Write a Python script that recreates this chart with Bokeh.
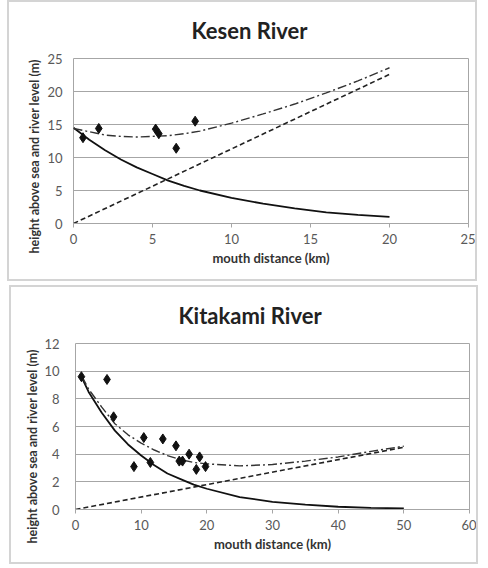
from bokeh.plotting import figure
from bokeh.models import Range1d, FixedTicker, Title
from bokeh.layouts import column
from bokeh.embed import file_html
from bokeh.resources import INLINE

# ---- Kesen River ----
kesen_obs_x = [0.6, 1.6, 5.2, 5.4, 6.5, 7.7]
kesen_obs_y = [13.0, 14.4, 14.3, 13.6, 11.4, 15.5]
kesen_solid_x = [0, 1, 2, 3, 4, 5, 6, 7, 8, 10, 12, 14, 16, 18, 20]
kesen_solid_y = [14.5, 12.7, 11.1, 9.7, 8.5, 7.5, 6.5, 5.7, 5.0, 3.9, 3.0, 2.3, 1.7, 1.3, 1.0]
kesen_dash_x = [0, 20]
kesen_dash_y = [0.0, 22.6]
kesen_dd_x = [0, 1, 2, 3, 4, 5, 6, 7, 8, 10, 12, 14, 16, 18, 20]
kesen_dd_y = [14.4, 13.9, 13.4, 13.2, 13.1, 13.2, 13.3, 13.6, 14.0, 15.2, 16.6, 18.1, 19.8, 21.6, 23.6]
kesen_xticks = [0, 5, 10, 15, 20, 25]
kesen_yticks = [0, 5, 10, 15, 20, 25]

# ---- Kitakami River ----
kita_obs_x = [0.9, 4.8, 5.8, 8.9, 10.4, 11.4, 13.3, 15.3, 15.8, 16.3, 17.3, 18.4, 18.9, 19.8]
kita_obs_y = [9.6, 9.4, 6.7, 3.1, 5.2, 3.4, 5.1, 4.6, 3.5, 3.5, 4.0, 2.9, 3.8, 3.1]
kita_solid_x = [1, 2, 4, 6, 8, 10, 12, 14, 16, 18, 20, 25, 30, 35, 40, 45, 50]
kita_solid_y = [9.5, 8.5, 7.0, 5.7, 4.7, 3.9, 3.2, 2.6, 2.2, 1.8, 1.5, 0.9, 0.55, 0.35, 0.2, 0.12, 0.08]
kita_dash_x = [0, 50]
kita_dash_y = [0.0, 4.5]
kita_dd_x = [1, 2, 4, 6, 8, 10, 12, 14, 16, 18, 20, 25, 30, 35, 40, 45, 50]
kita_dd_y = [9.6, 8.7, 7.4, 6.2, 5.4, 4.8, 4.3, 3.9, 3.6, 3.4, 3.3, 3.15, 3.25, 3.5, 3.8, 4.2, 4.58]
kita_xticks = [0, 10, 20, 30, 40, 50, 60]
kita_yticks = [0, 2, 4, 6, 8, 10, 12]

FONT = "Lato"
GRID = "#a6a6a6"
TICK = "#595959"


def make_panel(title, xmax, ymax, xticks, yticks, obs_x, obs_y, sx, sy, dx, dy, ddx, ddy,
               width, height, margin, left, right, top, bottom, title_offset,
               ytick_standoff, ylab_offset, ylab_standoff):
    p = figure(width=width, height=height, output_backend="svg", toolbar_location=None,
               x_range=Range1d(0, xmax), y_range=Range1d(0, ymax),
               min_border_left=left, min_border_right=right,
               min_border_top=top, min_border_bottom=bottom,
               margin=margin,
               styles={"border": "2px solid #d4d4d4", "box-sizing": "border-box"})
    p.background_fill_color = "white"
    p.border_fill_color = "white"
    p.outline_line_color = GRID
    p.outline_line_width = 1
    p.xgrid.grid_line_color = None
    p.ygrid.grid_line_color = GRID
    p.ygrid.grid_line_width = 1
    p.xaxis.ticker = FixedTicker(ticks=xticks)
    p.yaxis.ticker = FixedTicker(ticks=yticks)
    for ax in (p.xaxis, p.yaxis):
        ax.major_label_text_font = FONT
        ax.major_label_text_font_size = "13px"
        ax.major_label_text_color = TICK
        ax.minor_tick_line_color = None
    p.xaxis.axis_line_color = GRID
    p.xaxis.major_tick_line_color = GRID
    p.xaxis.major_tick_out = 4
    p.xaxis.major_tick_in = 0
    p.xaxis.major_label_standoff = 6
    p.xaxis.axis_label = "mouth distance (km)"
    p.xaxis.axis_label_text_font = FONT
    p.xaxis.axis_label_text_font_style = "bold"
    p.xaxis.axis_label_text_font_size = "13px"
    p.xaxis.axis_label_text_color = "#333333"
    p.xaxis.axis_label_standoff = 3
    p.yaxis.axis_line_color = None
    p.yaxis.major_tick_line_color = None
    p.yaxis.major_tick_out = 0
    p.yaxis.major_tick_in = 0
    p.yaxis.major_label_standoff = ytick_standoff

    p.add_layout(Title(text="height above sea and river level (m)", align="left",
                       offset=ylab_offset, standoff=ylab_standoff, text_font=FONT,
                       text_font_style="bold", text_font_size="12.5px",
                       text_color="#333333"), "left")

    p.title.text = title
    p.title.align = "left"
    p.title.vertical_align = "middle"
    p.title.offset = title_offset
    p.title.text_font = FONT
    p.title.text_font_style = "bold"
    p.title.text_font_size = "22px"
    p.title.text_color = "#222222"
    p.title.standoff = 27

    p.line(sx, sy, line_color="#111111", line_width=1.8)
    p.line(dx, dy, line_color="#222222", line_width=1.6, line_dash="5 3")
    p.line(ddx, ddy, line_color="#333333", line_width=1.4, line_dash="9 3 2 3")
    p.scatter(obs_x, obs_y, marker="diamond", size=10, fill_color="#111111", line_color="#111111")
    return p


p1 = make_panel("Kesen River", 25, 25, kesen_xticks, kesen_yticks,
                kesen_obs_x, kesen_obs_y, kesen_solid_x, kesen_solid_y,
                kesen_dash_x, kesen_dash_y, kesen_dd_x, kesen_dd_y,
                width=470, height=281, margin=(0, 0, 0, 7),
                left=60, right=9, top=55, bottom=60, title_offset=118,
                ytick_standoff=11, ylab_offset=-30, ylab_standoff=5)
p2 = make_panel("Kitakami River", 60, 12, kita_xticks, kita_yticks,
                kita_obs_x, kita_obs_y, kita_solid_x, kita_solid_y,
                kita_dash_x, kita_dash_y, kita_dd_x, kita_dd_y,
                width=469, height=279, margin=(4, 0, 0, 9),
                left=64, right=11, top=54, bottom=57, title_offset=103,
                ytick_standoff=16, ylab_offset=-34, ylab_standoff=3)

layout = column(p1, p2, spacing=0)
open("out.html", "w").write(file_html(layout, INLINE))
